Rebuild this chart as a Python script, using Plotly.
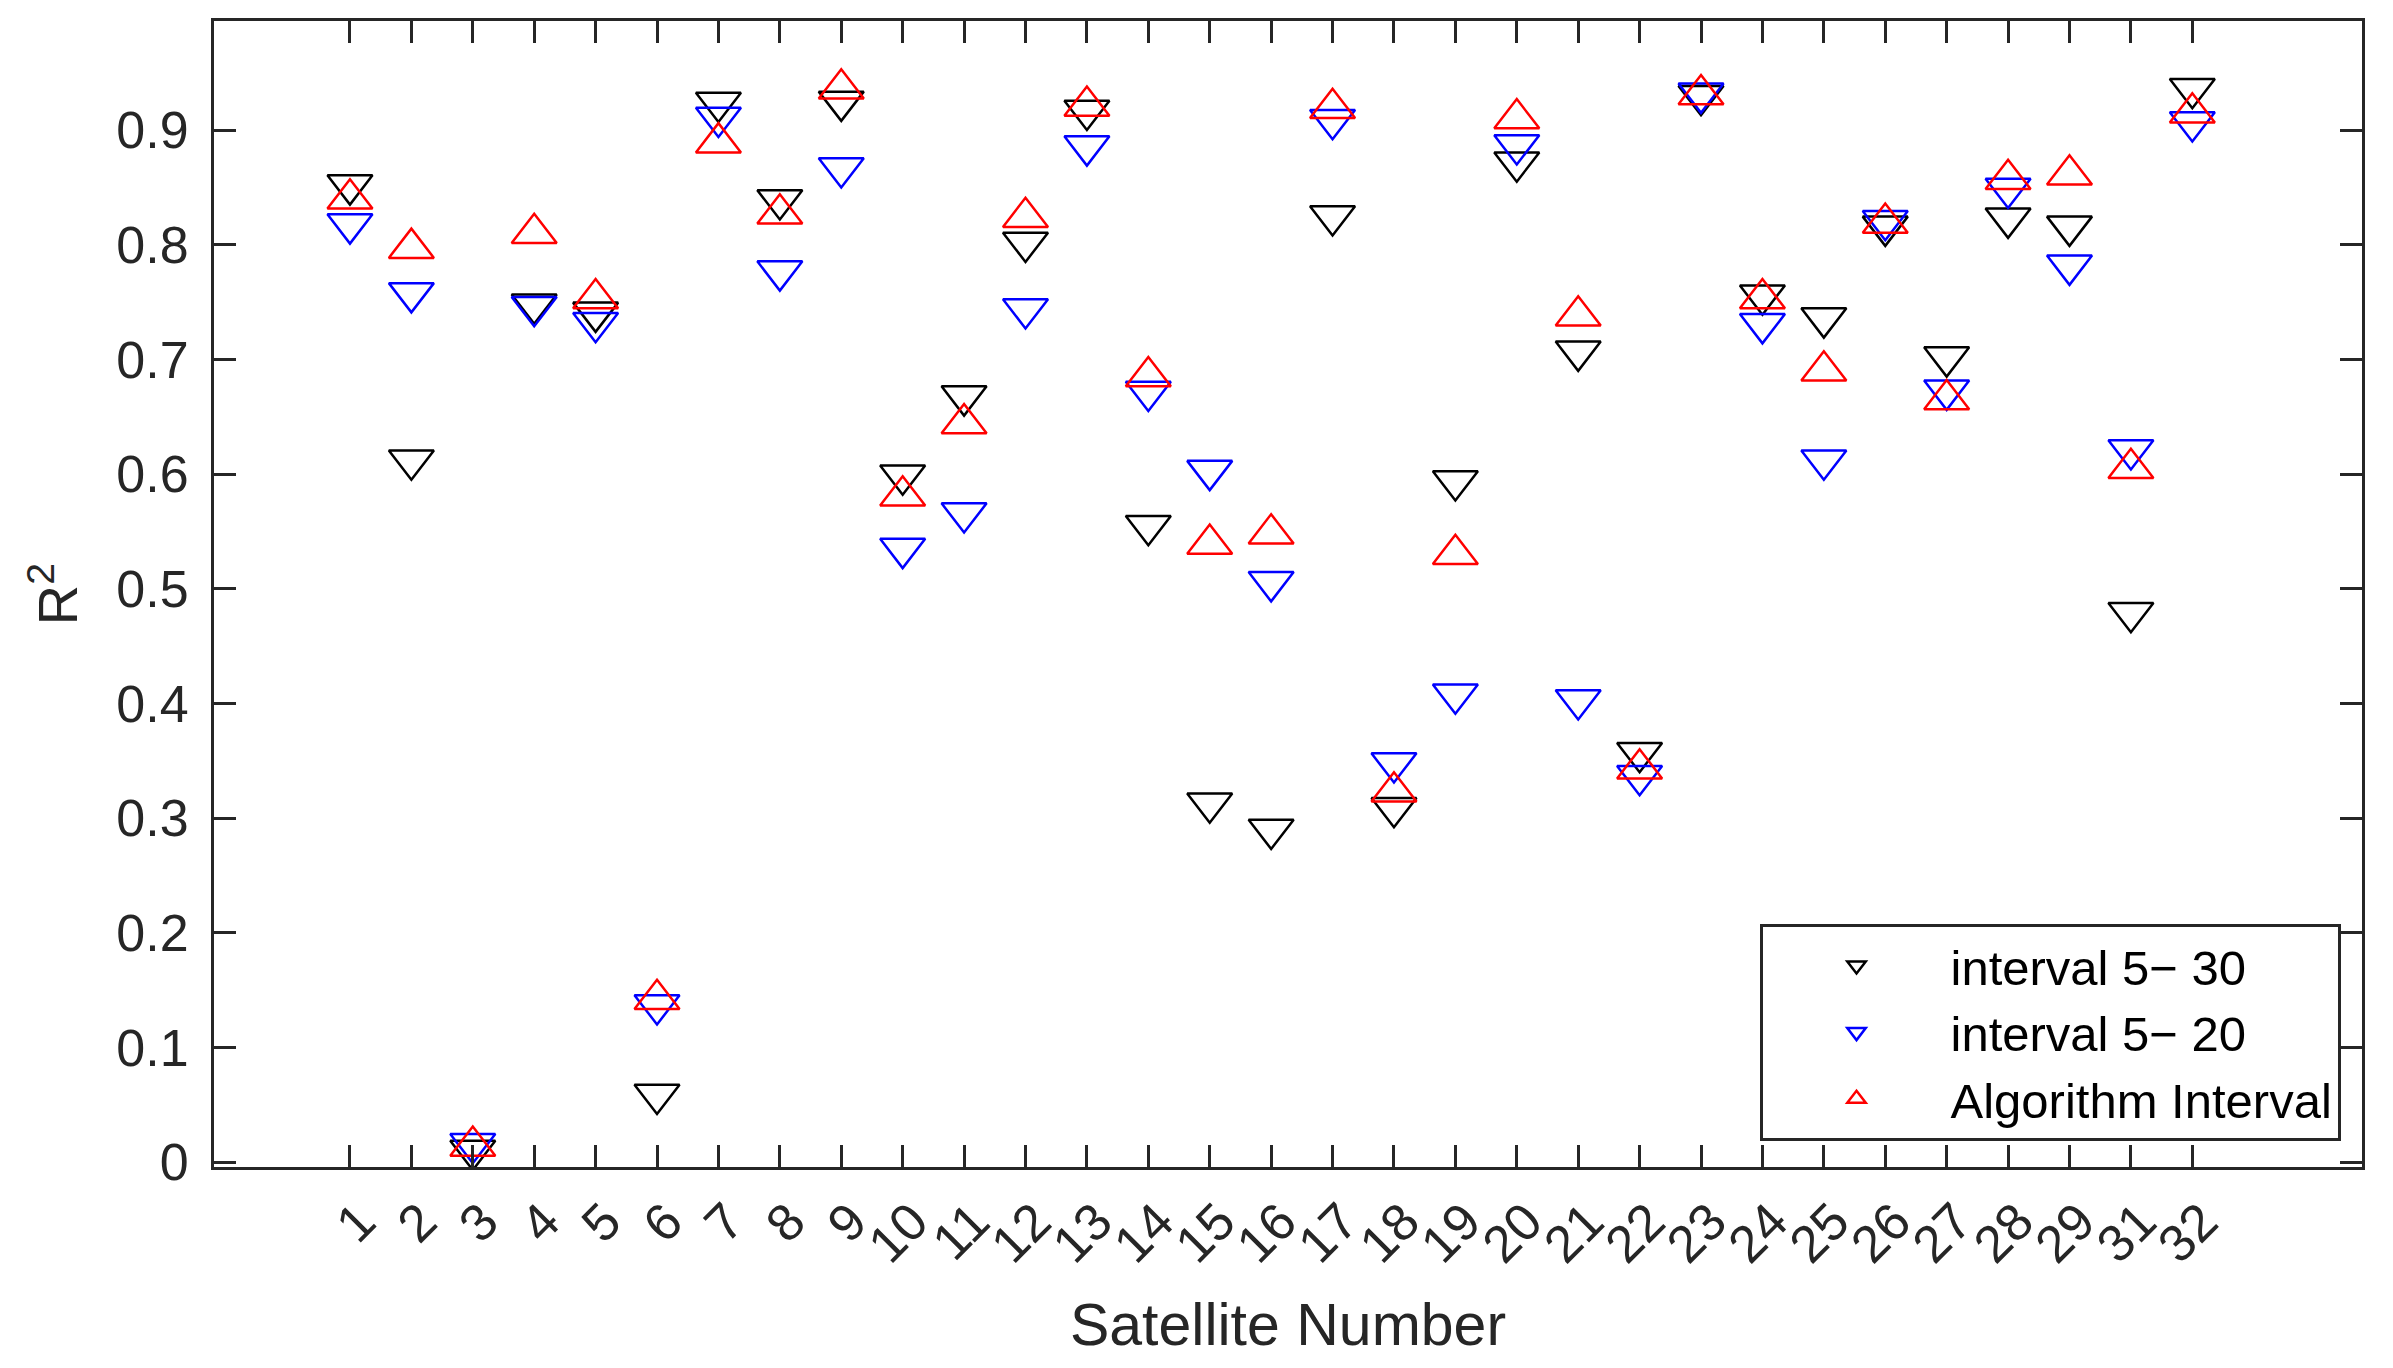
import plotly.graph_objects as go

satellites = ["1", "2", "3", "4", "5", "6", "7", "8", "9", "10", "11", "12", "13", "14", "15", "16",
              "17", "18", "19", "20", "21", "22", "23", "24", "25", "26", "27", "28", "29", "31", "32"]

interval_5_30 = [0.852, 0.612, 0.010, 0.748, 0.741, 0.059, 0.924, 0.839, 0.925, 0.599, 0.668,
                 0.802, 0.917, 0.555, 0.313, 0.290, 0.825, 0.309, 0.594, 0.872, 0.707, 0.357,
                 0.930, 0.756, 0.736, 0.816, 0.702, 0.823, 0.816, 0.479, 0.936]

interval_5_20 = [0.818, 0.758, 0.016, 0.746, 0.732, 0.137, 0.911, 0.777, 0.867, 0.535, 0.566,
                 0.744, 0.886, 0.672, 0.603, 0.506, 0.909, 0.348, 0.408, 0.887, 0.403, 0.337,
                 0.932, 0.731, 0.612, 0.821, 0.673, 0.849, 0.782, 0.621, 0.907]

algorithm_interval = [0.840, 0.797, 0.014, 0.810, 0.753, 0.142, 0.889, 0.827, 0.936, 0.581, 0.644,
                      0.824, 0.921, 0.685, 0.539, 0.548, 0.919, 0.323, 0.530, 0.910, 0.738, 0.343,
                      0.931, 0.753, 0.690, 0.819, 0.665, 0.857, 0.861, 0.605, 0.915]

y_ticks = [0, 0.1, 0.2, 0.3, 0.4, 0.5, 0.6, 0.7, 0.8, 0.9]

series = [
    ("interval 5\u2212 30", interval_5_30, "triangle-down-open", "#000000"),
    ("interval 5\u2212 20", interval_5_20, "triangle-down-open", "#0000FF"),
    ("Algorithm Interval", algorithm_interval, "triangle-up-open", "#FF0000"),
]

FONT = "Liberation Sans, Arial, sans-serif"
AXC = "#262626"

fig = go.Figure()
for name, vals, sym, col in series:
    fig.add_trace(go.Scatter(
        x=satellites, y=vals, mode="markers", name=name,
        marker=dict(symbol=sym, size=39, color=col, line=dict(color=col, width=2.5)),
    ))

# page body has an 8px margin, so the figure is sized/placed to compensate
fig.update_layout(
    width=2385, height=1360,
    margin=dict(l=206, r=31, t=10, b=201),
    paper_bgcolor="white", plot_bgcolor="white",
    font=dict(family=FONT, color=AXC, size=52),
    showlegend=True,
    legend=dict(
        x=0.990, y=0.212, xanchor="right", yanchor="top",
        bgcolor="white", bordercolor=AXC, borderwidth=3,
        font=dict(family=FONT, size=49, color="#000000"),
        itemwidth=178,
    ),
)

fig.update_xaxes(
    type="category", categoryorder="array", categoryarray=satellites,
    tickmode="array", tickvals=satellites, ticktext=satellites,
    range=[-2.214, 32.763],
    showline=True, linecolor=AXC, linewidth=3, mirror="allticks",
    ticks="inside", ticklen=22, tickwidth=2.5, tickcolor=AXC,
    tickangle=-45, ticklabelshift=10,
    tickfont=dict(family=FONT, size=52, color=AXC),
    showgrid=False, zeroline=False,
    title=dict(text="Satellite Number", font=dict(family=FONT, size=59, color=AXC), standoff=32),
)
fig.update_yaxes(
    range=[-0.0043, 0.9951],
    tickmode="array", tickvals=y_ticks, ticktext=[f"{v:g}" for v in y_ticks],
    showline=True, linecolor=AXC, linewidth=3, mirror="allticks",
    ticks="inside", ticklen=22, tickwidth=2.5, tickcolor=AXC,
    ticklabelstandoff=12,
    tickfont=dict(family=FONT, size=52, color=AXC),
    showgrid=False, zeroline=False,
    title=dict(text="R<sup>2</sup>", font=dict(family=FONT, size=56, color=AXC), standoff=21),
)

fig.write_html("out.html")
